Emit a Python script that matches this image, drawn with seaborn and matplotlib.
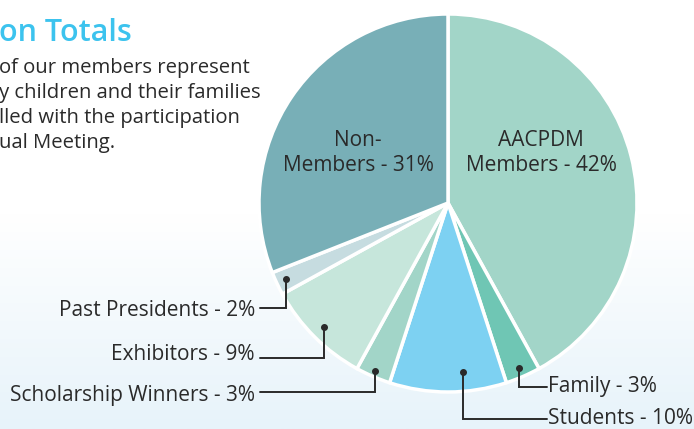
import numpy as np
import matplotlib.pyplot as plt
import seaborn as sns
from matplotlib.colors import LinearSegmentedColormap

# data
groups = ["AACPDM\nMembers", "Family", "Students", "Scholarship Winners",
          "Exhibitors", "Past Presidents", "Non-\nMembers"]
shares = [42, 3, 10, 3, 9, 2, 31]
slice_colors = ["#a2d5c8", "#6fc6b4", "#7dd1f2", "#a2d5c8",
                "#c6e6db", "#c6dce0", "#78afb7"]

title_text = "on Totals"
intro_lines = ["of our members represent",
               "y children and their families",
               "lled with the participation",
               "ual Meeting."]

sns.set_theme(style="white")
plt.rcParams['font.family'] = ['Open Sans', 'DejaVu Sans']
ink = "#2a2a2a"
fs = 15

W, H = 694, 429
fig = plt.figure(figsize=(W / 100, H / 100), dpi=100)
ax = fig.add_axes([0, 0, 1, 1])

# soft blue wash toward the bottom
bg = LinearSegmentedColormap.from_list("bg", ["#ffffff", "#ffffff", "#e7f3fa"])
grad = np.linspace(0, 1, 256).reshape(-1, 1)
ax.imshow(grad, cmap=bg, extent=(0, W, 0, H), aspect='auto', origin='upper', zorder=0)

cx, cy, R = 448, H - 203, 189
wedges, _ = ax.pie(shares, colors=slice_colors, startangle=90, counterclock=False,
                   center=(cx, cy), radius=R,
                   wedgeprops=dict(edgecolor="white", linewidth=2.5))
ax.set_xlim(0, W)
ax.set_ylim(0, H)
ax.set_aspect('equal')
ax.axis('off')

def label(i):
    return f"{groups[i]} - {shares[i]}%"

# big labels inside the two large slices
for i, (x, y) in zip([0, 6], [(541, H - 153), (358, H - 153)]):
    ax.text(x, y, label(i), ha='center', va='center', fontsize=fs,
            color=ink, linespacing=1.25)

# leader-line callouts: (slice, radius frac, angle nudge, line y, end x, text baseline, side)
callouts = [
    (5, 0.945, 0, 308, 260, 316, 'left'),
    (4, 0.93, 0, 358, 260, 360, 'left'),
    (3, 0.97, 0, 392, 260, 401, 'left'),
    (1, 0.95, 0, 387, 547, 392, 'right'),
    (2, 0.90, 5, 419, 547, 424, 'right'),
]
for i, rf, nudge, ly, ex, tb, side in callouts:
    w = wedges[i]
    ang = np.deg2rad((w.theta1 + w.theta2) / 2 + nudge)
    dx, dy = cx + rf * R * np.cos(ang), cy + rf * R * np.sin(ang)
    ax.plot([dx, dx, ex], [dy, H - ly, H - ly], color=ink, lw=1.4,
            solid_joinstyle='miter', zorder=5)
    ax.plot(dx, dy, 'o', color=ink, ms=4, zorder=6)
    if side == 'left':
        ax.text(ex - 5, H - tb, label(i), ha='right', va='baseline',
                fontsize=fs, color=ink)
    else:
        ax.text(ex + 1, H - tb, label(i), ha='left', va='baseline',
                fontsize=fs, color=ink)

# cropped heading and intro text
ax.text(-1, H - 41, title_text, ha='left', va='baseline', fontsize=22,
        fontweight='semibold', color="#3cc3ee")
for k, line in enumerate(intro_lines):
    ax.text(-1, H - (73 + 25 * k), line, ha='left', va='baseline',
            fontsize=14.6, color=ink)

fig.savefig("out.png", dpi=100)
